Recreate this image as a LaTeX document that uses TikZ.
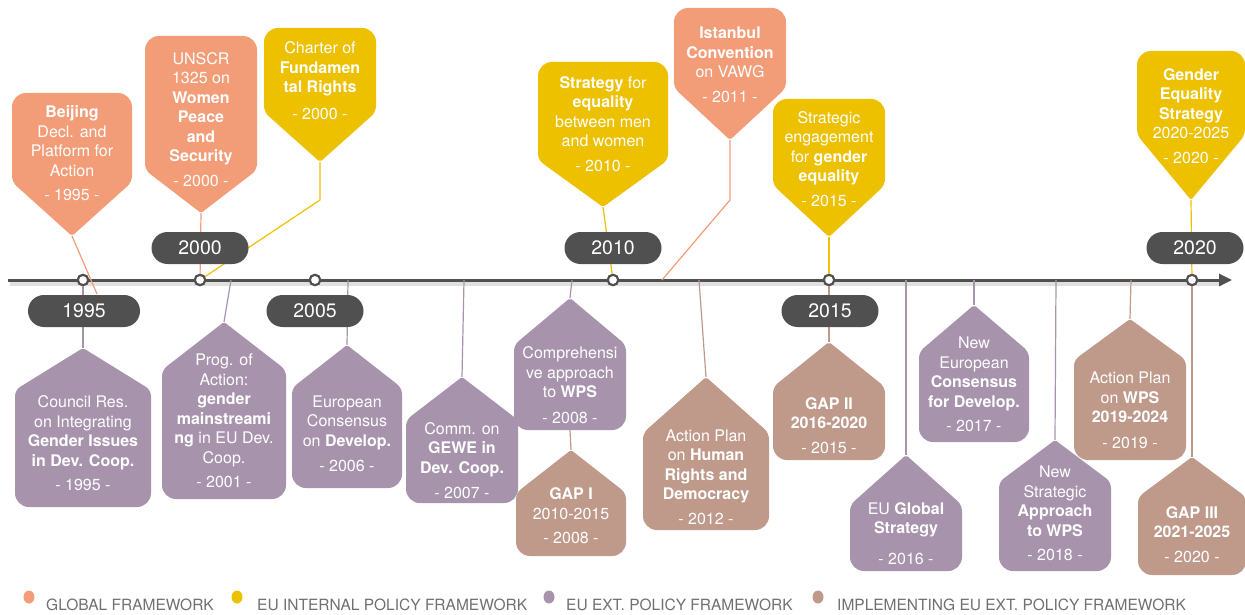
\documentclass[tikz,border=0pt]{standalone}
\usepackage{fontspec}
\setmainfont{TeX Gyre Heros}
\usetikzlibrary{arrows.meta}

\definecolor{globalc}{HTML}{F39C78}
\definecolor{internalc}{HTML}{EDC000}
\definecolor{externalc}{HTML}{A893AD}
\definecolor{implementc}{HTML}{BF9A8B}
\definecolor{axisgray}{HTML}{505050}
\definecolor{legendgray}{HTML}{707070}

% balloon hanging above the axis: name, colour, x, half width, top, shoulder, tip
\newcommand{\downballoon}[7]{%
  \fill[#2] (#3-#4,{(#5+#6)/2}) [rounded corners=14pt] -- (#3-#4,#5) -- (#3+#4,#5) -- (#3+#4,{(#5+#6)/2})
    [rounded corners=6pt] -- (#3+#4,#6) -- ({#3+#4/2},{(#6+#7)/2})
    [rounded corners=2pt] -- (#3,#7) -- ({#3-#4/2},{(#6+#7)/2})
    [rounded corners=6pt] -- (#3-#4,#6) -- cycle;
  \coordinate (#1-tip) at (#3,#7);
}
% balloon standing below the axis: name, colour, x, half width, apex, shoulder, bottom
\newcommand{\upballoon}[7]{%
  \fill[#2] (#3-#4,{(#6+#7)/2}) [rounded corners=6pt] -- (#3-#4,#6) -- ({#3-#4/2},{(#5+#6)/2})
    [rounded corners=2pt] -- (#3,#5) -- ({#3+#4/2},{(#5+#6)/2})
    [rounded corners=6pt] -- (#3+#4,#6) -- (#3+#4,{(#6+#7)/2})
    [rounded corners=14pt] -- (#3+#4,#7) -- (#3-#4,#7) -- cycle;
  \coordinate (#1-apex) at (#3,#5);
  \coordinate (#1-base) at (#3,#7);
}

\begin{document}
\begin{tikzpicture}[x=1pt,y=-1pt,
    boxtext/.style={text=white, align=center, inner sep=0pt, font=\fontsize{16}{19.5}\selectfont},
    yearpill/.style={fill=axisgray, text=white, rounded corners=16pt, minimum width=97pt,
      minimum height=32pt, inner sep=0pt, font=\fontsize{19.5}{20}\selectfont},
    yeardot/.style={circle, draw=axisgray, fill=white, line width=2.2pt, minimum size=10.5pt, inner sep=0pt},
    link/.style={line width=1.2pt},
    legendtext/.style={text=legendgray, anchor=west, inner sep=0pt, font=\fontsize{15.5}{15.5}\selectfont}]
  \useasboundingbox (0,0) rectangle (1245,615);

  % time axis
  \draw[black, opacity=0.12, line width=4pt] (10,283.5) -- (1222,283.5);
  \draw[axisgray, line width=3pt, -{Triangle[length=13pt,width=12pt]}] (8,280) -- (1232,280);
  \node[yeardot] (d1995) at (83,280) {};
  \node[yeardot] (d2000) at (200,280) {};
  \node[yeardot] (d2005) at (315,280) {};
  \node[yeardot] (d2010) at (613,280) {};
  \node[yeardot] (d2015) at (829,280) {};
  \node[yeardot] (d2020) at (1192,280) {};
  \coordinate (f2001) at (231,280);
  \coordinate (f2006) at (348,280);
  \coordinate (f2007) at (464,280);
  \coordinate (f2008) at (572,280);
  \coordinate (f2011) at (662,280);
  \coordinate (f2012) at (699,280);
  \coordinate (f2016) at (906,280);
  \coordinate (f2017) at (974,280);
  \coordinate (f2018) at (1056,280);
  \coordinate (f2019) at (1131,280);

  % above the axis
  \downballoon{beijing}{globalc}{72}{60}{93}{182}{236}
  \downballoon{unscr}{globalc}{201}{56}{36}{170}{213}
  \downballoon{charter}{internalc}{320}{56}{28}{112}{162}
  \downballoon{streq}{internalc}{603}{65}{62}{160}{207}
  \downballoon{istanbul}{globalc}{730}{56}{8}{88}{140}
  \downballoon{streng}{internalc}{829}{56}{99}{185}{237}
  \downballoon{gendereq}{internalc}{1191}{54}{51}{135}{200}
  \coordinate (beijing-end) at (97,294);
  \coordinate (charter-bend) at (320,200);
  \coordinate (istanbul-bend) at (730,200);
  \draw[link, globalc] (beijing-tip) -- (beijing-end);
  \draw[link, globalc] (unscr-tip) -- (d2000);
  \draw[link, internalc] (charter-tip) -- (charter-bend) -- (d2000);
  \draw[link, internalc] (streq-tip) -- (d2010);
  \draw[link, globalc] (istanbul-tip) -- (istanbul-bend) -- (f2011);
  \draw[link, internalc] (streng-tip) -- (d2015);
  \draw[link, internalc] (gendereq-tip) -- (d2020);

  \node[boxtext] (beijing) at (72,153.5) {\textbf{Beijing}\\Decl. and\\Platform for\\Action\\[5pt]- 1995 -};
  \node[boxtext] (unscr) at (201,119.5) {UNSCR\\1325 on\\\textbf{Women}\\\textbf{Peace}\\\textbf{and}\\\textbf{Security}\\[5pt]- 2000 -};
  \node[boxtext] (charter) at (320,80.5) {Charter of\\\textbf{Fundamen}\\\textbf{tal Rights}\\[7pt]- 2000 -};
  \node[boxtext] (streq) at (603,124) {\textbf{Strategy} for\\\textbf{equality}\\between men\\and women\\[5pt]- 2010 -};
  \node[boxtext] (istanbul) at (730,65) {\textbf{Istanbul}\\\textbf{Convention}\\on VAWG\\[5pt]- 2011 -};
  \node[boxtext] (streng) at (829,159) {Strategic\\engagement\\for \textbf{gender}\\\textbf{equality}\\[5pt]- 2015 -};
  \node[boxtext] (gendereq) at (1191,116) {\textbf{Gender}\\\textbf{Equality}\\\textbf{Strategy}\\2020-2025\\[5pt]- 2020 -};

  % below the axis
  \upballoon{council}{externalc}{83}{68}{348}{390}{507}
  \upballoon{prog}{externalc}{224}{62}{322}{370}{499}
  \upballoon{eurocons}{externalc}{347}{55}{345}{388}{488}
  \upballoon{gewe}{externalc}{462}{56}{377}{420}{503}
  \upballoon{compwps}{externalc}{570}{56}{298}{345}{430}
  \upballoon{gapone}{implementc}{571}{55}{450}{493}{556}
  \upballoon{humanrights}{implementc}{706}{63}{377}{433}{530}
  \upballoon{gaptwo}{implementc}{829}{56}{342}{387}{460}
  \upballoon{globalstrat}{externalc}{906}{56}{455}{505}{571}
  \upballoon{neweuro}{externalc}{974}{55}{305}{352}{442}
  \upballoon{newwps}{externalc}{1055}{56}{440}{482}{571}
  \upballoon{apwps}{implementc}{1130}{56}{319}{360}{460}
  \upballoon{gapthree}{implementc}{1192}{54}{457}{497}{575}
  \draw[link, externalc] (d1995) -- (council-apex);
  \draw[link, externalc] (f2001) -- (prog-apex);
  \draw[link, externalc] (f2006) -- (eurocons-apex);
  \draw[link, externalc] (f2007) -- (gewe-apex);
  \draw[link, externalc] (f2008) -- (compwps-apex);
  \draw[link, implementc] (compwps-base) -- (gapone-apex);
  \draw[link, implementc] (f2012) -- (humanrights-apex);
  \draw[link, implementc] (d2015) -- (gaptwo-apex);
  \draw[link, externalc] (f2016) -- (globalstrat-apex);
  \draw[link, externalc] (f2017) -- (neweuro-apex);
  \draw[link, externalc] (f2018) -- (newwps-apex);
  \draw[link, implementc] (f2019) -- (apwps-apex);
  \draw[link, implementc] (d2020) -- (gapthree-apex);

  \node[boxtext] (council) at (83,443.5) {Council Res.\\on Integrating\\\textbf{Gender Issues}\\\textbf{in Dev. Coop.}\\[5pt]- 1995 -};
  \node[boxtext] (prog) at (224,421) {Prog. of\\Action:\\\textbf{gender}\\\textbf{mainstreami}\\\textbf{ng} in EU Dev.\\Coop.\\[5pt]- 2001 -};
  \node[boxtext] (eurocons) at (347,434) {European\\Consensus\\on \textbf{Develop.}\\[6pt]- 2006 -};
  \node[boxtext] (gewe) at (462,460.5) {Comm. on\\\textbf{GEWE in}\\\textbf{Dev. Coop.}\\[6pt]- 2007 -};
  \node[boxtext] (compwps) at (570,385) {Comprehensi\\ve approach\\to \textbf{WPS}\\[6pt]- 2008 -};
  \node[boxtext] (gapone) at (571,516) {\textbf{GAP I}\\2010-2015\\[5pt]- 2008 -};
  \node[boxtext] (humanrights) at (706,477) {Action Plan\\on \textbf{Human}\\\textbf{Rights and}\\\textbf{Democracy}\\[5pt]- 2012 -};
  \node[boxtext] (gaptwo) at (829,425.5) {\textbf{GAP II}\\\textbf{2016-2020}\\[5pt]- 2015 -};
  \node[boxtext] (globalstrat) at (906,533.5) {EU \textbf{Global}\\\textbf{Strategy}\\[11pt]- 2016 -};
  \node[boxtext] (neweuro) at (974,384.5) {New\\European\\\textbf{Consensus}\\\textbf{for Develop.}\\[5pt]- 2017 -};
  \node[boxtext] (newwps) at (1055,513.5) {New\\Strategic\\\textbf{Approach}\\\textbf{to WPS}\\[5pt]- 2018 -};
  \node[boxtext] (apwps) at (1130,410.5) {Action Plan\\on \textbf{WPS}\\\textbf{2019-2024}\\[6pt]- 2019 -};
  \node[boxtext] (gapthree) at (1192,534.5) {\textbf{GAP III}\\\textbf{2021-2025}\\[5pt]- 2020 -};

  % year labels
  \node[yearpill, minimum width=112pt] (p1995) at (84,311) {1995};
  \node[yearpill] (p2000) at (200,248) {2000};
  \node[yearpill] (p2005) at (315,311) {2005};
  \node[yearpill] (p2010) at (613,248) {2010};
  \node[yearpill] (p2015) at (830,311) {2015};
  \node[yearpill] (p2020) at (1195,248) {2020};

  % legend
  \fill[globalc] (29,597) ellipse [x radius=5.5pt, y radius=6.5pt];
  \fill[internalc] (237,597) ellipse [x radius=5.5pt, y radius=6.5pt];
  \fill[externalc] (549,597) ellipse [x radius=5.5pt, y radius=6.5pt];
  \fill[implementc] (818,597) ellipse [x radius=5.5pt, y radius=6.5pt];
  \node[legendtext] (lgglobal) at (46,604.5) {GLOBAL FRAMEWORK};
  \node[legendtext] (lginternal) at (257,604.5) {EU INTERNAL POLICY FRAMEWORK};
  \node[legendtext] (lgexternal) at (566,604.5) {EU EXT. POLICY FRAMEWORK};
  \node[legendtext] (lgimplement) at (837,604.5) {IMPLEMENTING EU EXT. POLICY FRAMEWORK};
\end{tikzpicture}
\end{document}
